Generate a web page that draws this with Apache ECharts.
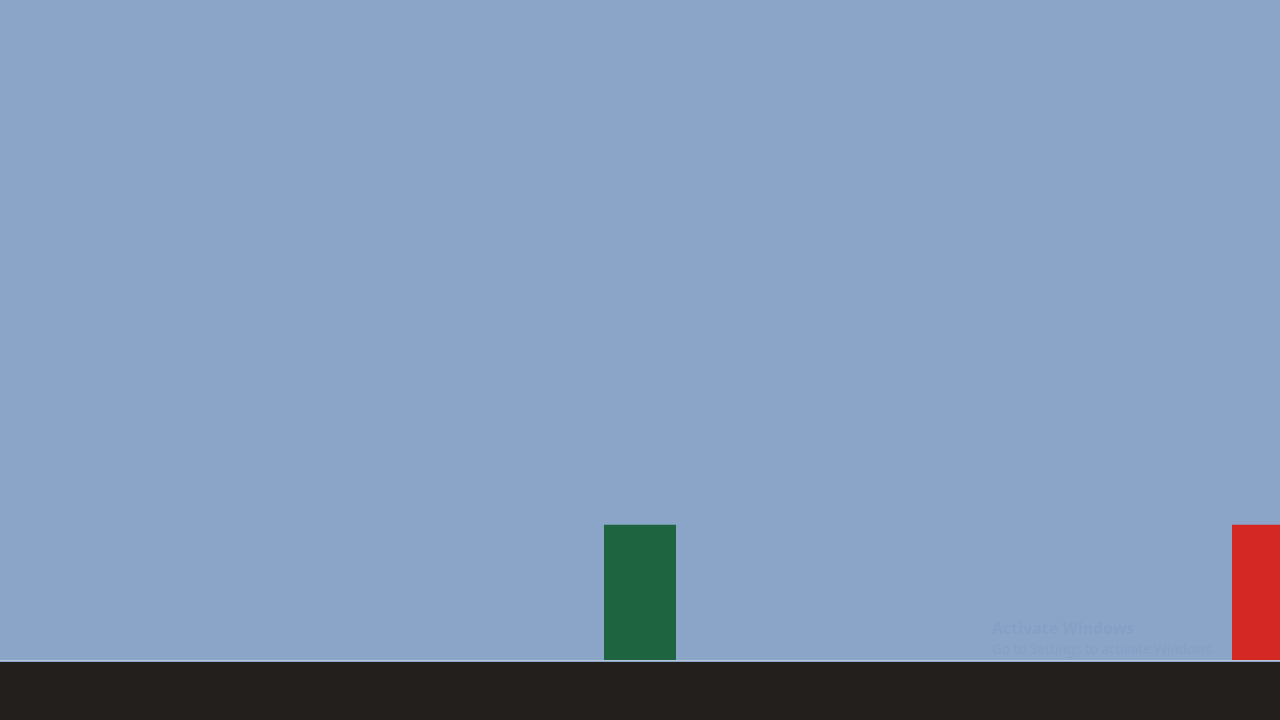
<!DOCTYPE html>
<html>
<head>
<meta charset="utf-8">
<script src="https://cdn.jsdelivr.net/npm/echarts@6/dist/echarts.min.js"></script>
<style>
  html, body { margin: 0; padding: 0; background: #8BA5C9; }
  #main { width: 1280px; height: 720px; }
</style>
</head>
<body>
<div id="main"></div>
<script>
// Daten
var categories = ['', 'A', 'B'];
var values = [null, 20.5, 20.5];
var barColors = ['#8BA5C9', '#1F6440', '#D42824'];

var myChart = echarts.init(document.getElementById('main'));

var option = {
  backgroundColor: '#8BA5C9',
  animation: false,
  grid: { left: -302, right: -302, top: 0, bottom: 60, outerBoundsMode: 'none', containLabel: false },
  xAxis: {
    type: 'category',
    data: categories,
    axisLine: { show: true, lineStyle: { color: '#B9C6DA', width: 1 } },
    axisTick: { show: false },
    axisLabel: { show: false }
  },
  yAxis: {
    type: 'value',
    min: 0,
    max: 100,
    show: false,
    splitLine: { show: false }
  },
  series: [
    {
      type: 'bar',
      barWidth: 72,
      data: values.map(function (v, i) {
        return { value: v, itemStyle: { color: barColors[i] } };
      })
    }
  ],
  graphic: [
    {
      type: 'rect',
      left: 0,
      top: 662,
      shape: { width: 1280, height: 58 },
      style: { fill: '#231F1C' },
      z: 10
    },
    {
      type: 'text',
      left: 992,
      top: 621,
      style: {
        text: 'Activate Windows',
        fill: '#869FC5',
        font: 'bold 16px "Noto Sans"'
      },
      z: 5
    },
    {
      type: 'text',
      left: 992,
      top: 643,
      style: {
        text: 'Go to Settings to activate Windows.',
        fill: '#869FC5',
        font: '13.5px "Noto Sans"'
      },
      z: 5
    }
  ]
};

myChart.setOption(option);
</script>
</body>
</html>
